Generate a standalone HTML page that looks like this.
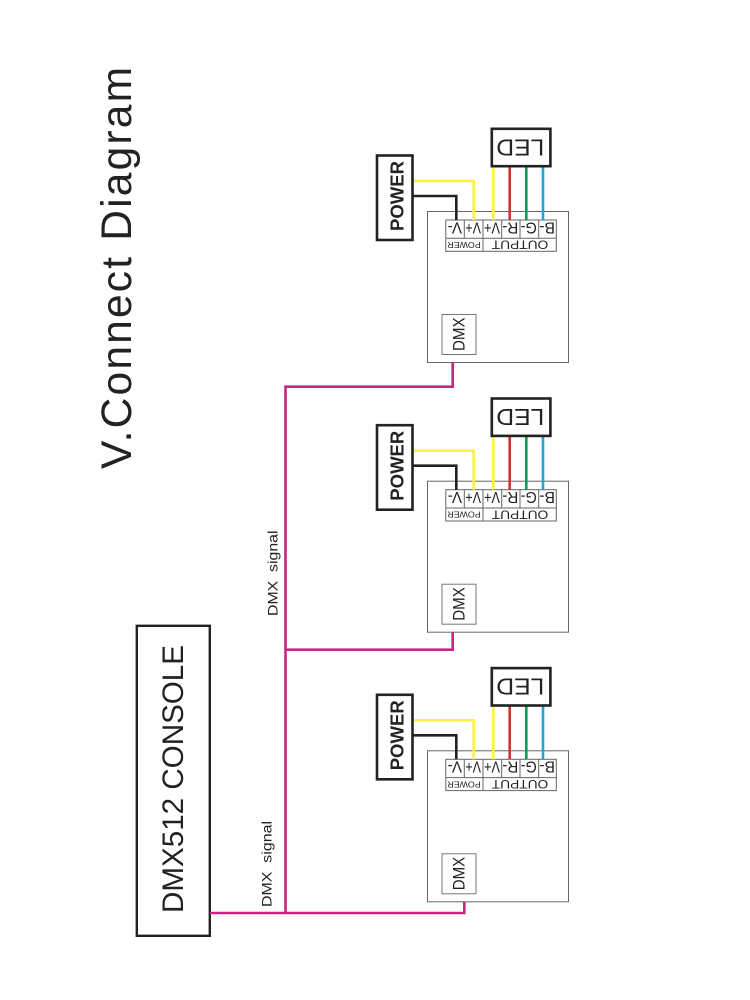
<!DOCTYPE html>
<html>
<head>
<meta charset="utf-8">
<style>
html,body{margin:0;padding:0;background:#fff;width:750px;height:1000px;overflow:hidden}
svg{display:block}
text{font-family:"Liberation Sans",sans-serif;fill:#222}
</style>
</head>
<body>
<svg width="750" height="1000" viewBox="0 0 750 1000" xmlns="http://www.w3.org/2000/svg">
<rect width="750" height="1000" fill="#fff"/>

<text transform="translate(130.8,469) rotate(-90)" font-size="42.5" textLength="402" lengthAdjust="spacing">V.Connect Diagram</text>

<rect x="136.8" y="625.8" width="73" height="310" fill="#fff" stroke="#222" stroke-width="2.4"/>
<text transform="translate(183,913) rotate(-90)" font-size="29.5" textLength="268" lengthAdjust="spacingAndGlyphs">DMX512 CONSOLE</text>
<text transform="translate(271.5,907) rotate(-90)" font-size="13.5" textLength="86" lengthAdjust="spacingAndGlyphs">DMX&#160;&#160;signal</text>
<text transform="translate(277.7,616) rotate(-90)" font-size="13.5" textLength="85.5" lengthAdjust="spacingAndGlyphs">DMX&#160;&#160;signal</text>

<g fill="none" stroke="#c9247f" stroke-width="2.6">
<path d="M210 913H464.3V894"/>
<path d="M285.5 913V386.7H452.7V354"/>
<path d="M285.5 649.7H452.7V624"/>
</g>

<g>
<rect x="427.5" y="211.5" width="141" height="151" fill="#fff" stroke="#666" stroke-width="1"/>
<rect x="445.8" y="220" width="110.5" height="31.3" fill="#fff" stroke="#666" stroke-width="1"/>
<path d="M445.8 238.3H556.3M464.3 220V238.3M483 220V251.3M501.7 220V238.3M520 220V238.3M538.7 220V238.3" fill="none" stroke="#666" stroke-width="1"/>
<rect x="442" y="314.5" width="34" height="40" fill="#fff" stroke="#777" stroke-width="1"/>
<g fill="none" stroke-width="2.6">
<path d="M412 181H473.7V220" stroke="#fff14a"/>
<path d="M412 196H456.3V220" stroke="#222"/>
<path d="M493.3 166V220" stroke="#fff14a"/>
<path d="M509.7 166V220" stroke="#d2332e"/>
<path d="M526.3 166V220" stroke="#0f9a56"/>
<path d="M543 166V220" stroke="#1ea5dc"/>
</g>
<rect x="377" y="155.5" width="35.5" height="84.5" fill="#fff" stroke="#222" stroke-width="2.6"/>
<rect x="491.8" y="128.8" width="58.6" height="37.4" fill="#fff" stroke="#222" stroke-width="2.6"/>
<text transform="translate(403.3,231) rotate(-90)" font-size="18.5" font-weight="bold" textLength="70" lengthAdjust="spacing">POWER</text>
<text transform="translate(544.3,139.3) rotate(180)" font-size="23.5" textLength="48" lengthAdjust="spacingAndGlyphs">LED</text>
<text transform="translate(464.3,351) rotate(-90)" font-size="16.5" textLength="33.5" lengthAdjust="spacingAndGlyphs">DMX</text>
<g font-size="16">
<text transform="translate(462,222.3) rotate(180)" textLength="14.3" lengthAdjust="spacingAndGlyphs">V-</text>
<text transform="translate(481,222.3) rotate(180)" textLength="15.6" lengthAdjust="spacingAndGlyphs">V+</text>
<text transform="translate(500,222.3) rotate(180)" textLength="16" lengthAdjust="spacingAndGlyphs">V+</text>
<text transform="translate(518.3,222.3) rotate(180)" textLength="16" lengthAdjust="spacingAndGlyphs">R-</text>
<text transform="translate(536.7,222.3) rotate(180)" textLength="16" lengthAdjust="spacingAndGlyphs">G-</text>
<text transform="translate(555,222.3) rotate(180)" textLength="15.7" lengthAdjust="spacingAndGlyphs">B-</text>
</g>
<text transform="translate(548.3,240.7) rotate(180)" font-size="12" textLength="56.6" lengthAdjust="spacingAndGlyphs">OUTPUT</text>
<text transform="translate(480.7,242) rotate(180)" font-size="8" textLength="33.4" lengthAdjust="spacingAndGlyphs">POWER</text>
</g>

<g transform="translate(0,269.7)">
<rect x="427.5" y="211.5" width="141" height="151" fill="#fff" stroke="#666" stroke-width="1"/>
<rect x="445.8" y="220" width="110.5" height="31.3" fill="#fff" stroke="#666" stroke-width="1"/>
<path d="M445.8 238.3H556.3M464.3 220V238.3M483 220V251.3M501.7 220V238.3M520 220V238.3M538.7 220V238.3" fill="none" stroke="#666" stroke-width="1"/>
<rect x="442" y="314.5" width="34" height="40" fill="#fff" stroke="#777" stroke-width="1"/>
<g fill="none" stroke-width="2.6">
<path d="M412 181H473.7V220" stroke="#fff14a"/>
<path d="M412 196H456.3V220" stroke="#222"/>
<path d="M493.3 166V220" stroke="#fff14a"/>
<path d="M509.7 166V220" stroke="#d2332e"/>
<path d="M526.3 166V220" stroke="#0f9a56"/>
<path d="M543 166V220" stroke="#1ea5dc"/>
</g>
<rect x="377" y="155.5" width="35.5" height="84.5" fill="#fff" stroke="#222" stroke-width="2.6"/>
<rect x="491.8" y="128.8" width="58.6" height="37.4" fill="#fff" stroke="#222" stroke-width="2.6"/>
<text transform="translate(403.3,231) rotate(-90)" font-size="18.5" font-weight="bold" textLength="70" lengthAdjust="spacing">POWER</text>
<text transform="translate(544.3,139.3) rotate(180)" font-size="23.5" textLength="48" lengthAdjust="spacingAndGlyphs">LED</text>
<text transform="translate(464.3,351) rotate(-90)" font-size="16.5" textLength="33.5" lengthAdjust="spacingAndGlyphs">DMX</text>
<g font-size="16">
<text transform="translate(462,222.3) rotate(180)" textLength="14.3" lengthAdjust="spacingAndGlyphs">V-</text>
<text transform="translate(481,222.3) rotate(180)" textLength="15.6" lengthAdjust="spacingAndGlyphs">V+</text>
<text transform="translate(500,222.3) rotate(180)" textLength="16" lengthAdjust="spacingAndGlyphs">V+</text>
<text transform="translate(518.3,222.3) rotate(180)" textLength="16" lengthAdjust="spacingAndGlyphs">R-</text>
<text transform="translate(536.7,222.3) rotate(180)" textLength="16" lengthAdjust="spacingAndGlyphs">G-</text>
<text transform="translate(555,222.3) rotate(180)" textLength="15.7" lengthAdjust="spacingAndGlyphs">B-</text>
</g>
<text transform="translate(548.3,240.7) rotate(180)" font-size="12" textLength="56.6" lengthAdjust="spacingAndGlyphs">OUTPUT</text>
<text transform="translate(480.7,242) rotate(180)" font-size="8" textLength="33.4" lengthAdjust="spacingAndGlyphs">POWER</text>
</g>

<g transform="translate(0,539.3)">
<rect x="427.5" y="211.5" width="141" height="151" fill="#fff" stroke="#666" stroke-width="1"/>
<rect x="445.8" y="220" width="110.5" height="31.3" fill="#fff" stroke="#666" stroke-width="1"/>
<path d="M445.8 238.3H556.3M464.3 220V238.3M483 220V251.3M501.7 220V238.3M520 220V238.3M538.7 220V238.3" fill="none" stroke="#666" stroke-width="1"/>
<rect x="442" y="314.5" width="34" height="40" fill="#fff" stroke="#777" stroke-width="1"/>
<g fill="none" stroke-width="2.6">
<path d="M412 181H473.7V220" stroke="#fff14a"/>
<path d="M412 196H456.3V220" stroke="#222"/>
<path d="M493.3 166V220" stroke="#fff14a"/>
<path d="M509.7 166V220" stroke="#d2332e"/>
<path d="M526.3 166V220" stroke="#0f9a56"/>
<path d="M543 166V220" stroke="#1ea5dc"/>
</g>
<rect x="377" y="155.5" width="35.5" height="84.5" fill="#fff" stroke="#222" stroke-width="2.6"/>
<rect x="491.8" y="128.8" width="58.6" height="37.4" fill="#fff" stroke="#222" stroke-width="2.6"/>
<text transform="translate(403.3,231) rotate(-90)" font-size="18.5" font-weight="bold" textLength="70" lengthAdjust="spacing">POWER</text>
<text transform="translate(544.3,139.3) rotate(180)" font-size="23.5" textLength="48" lengthAdjust="spacingAndGlyphs">LED</text>
<text transform="translate(464.3,351) rotate(-90)" font-size="16.5" textLength="33.5" lengthAdjust="spacingAndGlyphs">DMX</text>
<g font-size="16">
<text transform="translate(462,222.3) rotate(180)" textLength="14.3" lengthAdjust="spacingAndGlyphs">V-</text>
<text transform="translate(481,222.3) rotate(180)" textLength="15.6" lengthAdjust="spacingAndGlyphs">V+</text>
<text transform="translate(500,222.3) rotate(180)" textLength="16" lengthAdjust="spacingAndGlyphs">V+</text>
<text transform="translate(518.3,222.3) rotate(180)" textLength="16" lengthAdjust="spacingAndGlyphs">R-</text>
<text transform="translate(536.7,222.3) rotate(180)" textLength="16" lengthAdjust="spacingAndGlyphs">G-</text>
<text transform="translate(555,222.3) rotate(180)" textLength="15.7" lengthAdjust="spacingAndGlyphs">B-</text>
</g>
<text transform="translate(548.3,240.7) rotate(180)" font-size="12" textLength="56.6" lengthAdjust="spacingAndGlyphs">OUTPUT</text>
<text transform="translate(480.7,242) rotate(180)" font-size="8" textLength="33.4" lengthAdjust="spacingAndGlyphs">POWER</text>
</g>
</svg>
</body>
</html>
